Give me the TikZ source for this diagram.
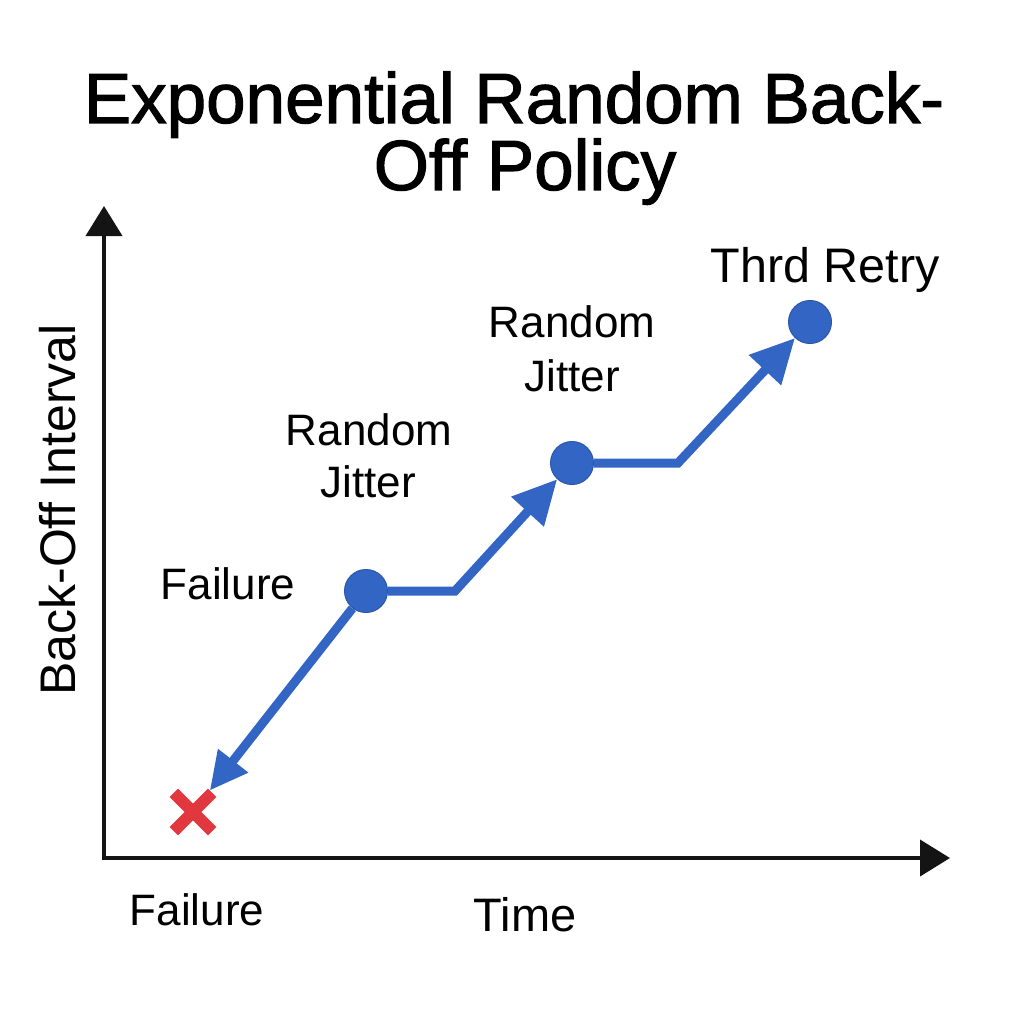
\documentclass[tikz,border=0pt]{standalone}
\usepackage{fontspec}
\setmainfont{Liberation Sans}
\newfontfamily\titlefont{Liberation Sans}[FakeBold=1.6]
\usetikzlibrary{arrows.meta}
\definecolor{ptblue}{RGB}{51,102,196}
\definecolor{xred}{RGB}{224,56,62}
\begin{document}
\begin{tikzpicture}[x=1pt,y=-1pt,
  axis/.style={line width=4pt,black!92,{Triangle[length=30pt,width=36pt]}-{Triangle[length=30pt,width=36pt]}},
  trail/.style={line width=9pt,ptblue,-{Triangle[length=44pt,width=42pt]}},
  dot/.style={circle,fill=ptblue,draw=ptblue!85!black,line width=1pt,minimum size=43pt,inner sep=0pt},
  lbl/.style={font=\fontsize{44}{52}\selectfont,anchor=base,inner sep=0pt},
  ttl/.style={font=\titlefont\fontsize{71}{84}\selectfont,anchor=base,inner sep=0pt},
]
\useasboundingbox (0,0) rectangle (1024,1024);
% title
\node[ttl] (t1) at (514,123) {Exponential Random Back-};
\node[ttl] (t2) at (525,190) {Off Policy};
% axes
\coordinate (ytop) at (104,206);
\coordinate (o) at (104,858);
\coordinate (xend) at (950,858);
\draw[axis] (ytop) -- (o) -- (xend);
% points
\node[dot] (d1) at (366,591) {};
\node[dot] (d2) at (572,463) {};
\node[dot] (d3) at (810,322) {};
\node[circle,minimum size=54pt,inner sep=0pt] (fx) at (193,812) {};
\coordinate (k1) at (455,591);
\coordinate (k2) at (678,463);
% connectors
\draw[trail] (d1) -- (k1) -- (d2);
\draw[trail] (d2) -- (k2) -- (d3);
\draw[trail,-{Triangle[length=38pt,width=36pt]}] (d1) -- (fx);
\draw[xred,line width=12pt] (fx.north west) -- (fx.south east);
\draw[xred,line width=12pt] (fx.north east) -- (fx.south west);
% labels
\node[lbl] (lf) at (228,599) {Failure};
\node[lbl] (lr1) at (369,445) {Random};
\node[lbl] (lj1) at (368,497) {Jitter};
\node[lbl] (lr2) at (572,337) {Random};
\node[lbl] (lj2) at (572,391) {Jitter};
\node[lbl,font=\fontsize{48.5}{56}\selectfont] (lt) at (825,282) {Thrd Retry};
\node[lbl] (lfb) at (197,925) {Failure};
\node[lbl,font=\fontsize{47}{56}\selectfont] (ltime) at (525,931) {Time};
\node[lbl,font=\fontsize{50}{56}\selectfont,rotate=90] (ly) at (75,510) {Back-Off Interval};
\end{tikzpicture}
\end{document}
